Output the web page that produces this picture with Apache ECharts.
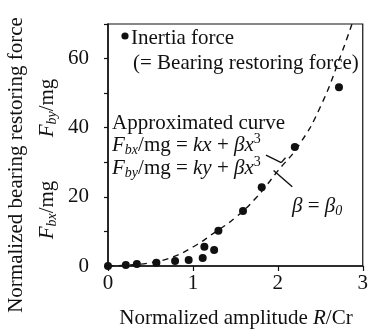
<!DOCTYPE html>
<html>
<head>
<meta charset="utf-8">
<script src="https://cdn.jsdelivr.net/npm/echarts@6/dist/echarts.min.js"></script>
<style>
html,body{margin:0;padding:0;background:#fff;}
#chart{width:371px;height:330px;}
</style>
</head>
<body>
<div id="chart"></div>
<script>
// Inertia force measurements (normalized amplitude R/Cr vs normalized force)
var pointX = [0, 0.21, 0.34, 0.57, 0.79, 0.95, 1.115, 1.135, 1.25, 1.30, 1.59, 1.81, 2.20, 2.72];
var pointY = [0, 0.3, 0.6, 0.95, 1.45, 1.7, 2.3, 5.6, 4.6, 10.2, 15.9, 22.8, 34.4, 51.7];
// Approximated curve
var curveX = [0, 0.25, 0.5, 0.75, 1.0, 1.25, 1.5, 1.75, 2.0, 2.25, 2.5, 2.75, 2.9];
var curveY = [0, 0.3, 0.95, 2.5, 5.5, 9.6, 14.0, 19.9, 27.5, 35.0, 46.0, 61.5, 72.0];
// Axis ticks
var xTicks = [0, 1, 2, 3];
var yTickLabels = [0, 20, 40, 60];

var FONT = '"Liberation Serif", "DejaVu Serif", serif';
var FS = 21;

var chart = echarts.init(document.getElementById('chart'));

function zip(a, b) { return a.map(function (v, i) { return [v, b[i]]; }); }

var richBase = {
  n: { fontFamily: FONT, fontSize: FS, fill: '#111', lineHeight: 25 },
  i: { fontFamily: FONT, fontSize: FS, fontStyle: 'italic', fill: '#111', lineHeight: 25 },
  sub: { fontFamily: FONT, fontSize: 14, fontStyle: 'italic', fill: '#111', lineHeight: 14, verticalAlign: 'bottom' },
  subn: { fontFamily: FONT, fontSize: 14, fontStyle: 'italic', fill: '#111', lineHeight: 14, verticalAlign: 'bottom' },
  sup: { fontFamily: FONT, fontSize: 14, fill: '#111', lineHeight: 14, verticalAlign: 'top' }
};

function txt(x, y, text, align, rot) {
  return {
    type: 'text', x: x, y: y, rotation: rot || 0, silent: true,
    style: {
      text: text, rich: richBase,
      fontFamily: FONT, fontSize: FS, fill: '#111',
      textAlign: align || 'left', textVerticalAlign: 'middle',
      align: align || 'left', verticalAlign: 'middle'
    }
  };
}

var option = {
  backgroundColor: '#fff',
  animation: false,
  grid: { left: 108, right: 2, top: 24, bottom: 64, show: true, borderColor: '#111', borderWidth: 1.2, backgroundColor: 'transparent' },
  xAxis: {
    type: 'value', min: 0, max: 3, interval: 1,
    axisLine: { show: true, lineStyle: { color: '#111', width: 1.5 } },
    axisTick: { show: true, inside: false, length: 5, lineStyle: { color: '#111', width: 1.2 } },
    splitLine: { show: false },
    axisLabel: { color: '#111', fontFamily: FONT, fontSize: FS, margin: 7,
      formatter: function (v) { return xTicks.indexOf(v) >= 0 ? String(v) : ''; } }
  },
  yAxis: {
    type: 'value', min: 0, max: 70, interval: 10,
    axisLine: { show: true, lineStyle: { color: '#111', width: 1.5 } },
    axisTick: { show: true, inside: false, length: 4, lineStyle: { color: '#111', width: 1.2 } },
    splitLine: { show: false },
    axisLabel: { color: '#111', fontFamily: FONT, fontSize: FS, margin: 19,
      formatter: function (v) { return yTickLabels.indexOf(v) >= 0 ? String(v) : ''; } }
  },
  series: [
    {
      type: 'line', data: zip(curveX, curveY), smooth: true, showSymbol: false, clip: true,
      lineStyle: { color: '#111', width: 1.4, type: [6, 5] }, silent: true,
      markLine: {
        silent: true, symbolSize: [0, 9], animation: false,
        label: { show: false },
        lineStyle: { color: '#111', width: 1.4, type: 'solid' },
        data: [
          [{ coord: [1.86, 32.1], symbol: 'none' }, { coord: [2.04, 29.9], symbol: 'arrow' }],
          [{ coord: [2.04, 29.9], symbol: 'none' }, { coord: [2.09, 31.3], symbol: 'none' }],
          [{ coord: [2.17, 22.9], symbol: 'none' }, { coord: [1.95, 27.6], symbol: 'arrow' }]
        ]
      }
    },
    {
      type: 'scatter', data: zip(pointX, pointY), symbol: 'circle', symbolSize: 8,
      itemStyle: { color: '#111', opacity: 1 }, silent: true
    }
  ],
  graphic: [
    { type: 'circle', shape: { cx: 125, cy: 36, r: 3.6 }, style: { fill: '#111' }, silent: true },
    txt(131, 38, 'Inertia force'),
    txt(133, 63, '(= Bearing restoring force)'),
    txt(112, 123, 'Approximated curve'),
    txt(112, 145, '{i|F}{sub|bx}{n|/mg = }{i|kx}{n| + }{i|βx}{sup|3}'),
    txt(112, 168, '{i|F}{sub|by}{n|/mg = }{i|ky}{n| + }{i|βx}{sup|3}'),
    txt(292, 206, '{i|β}{n| = }{i|β}{subn|0}'),
    txt(236, 318, '{n|Normalized amplitude }{i|R}{n|/Cr}', 'center'),
    txt(16, 165, 'Normalized bearing restoring force', 'center', Math.PI / 2),
    txt(47, 108, '{i|F}{sub|by}{n|/mg}', 'center', Math.PI / 2),
    txt(47, 210, '{i|F}{sub|bx}{n|/mg}', 'center', Math.PI / 2)
  ]
};
chart.setOption(option);
</script>
</body>
</html>
